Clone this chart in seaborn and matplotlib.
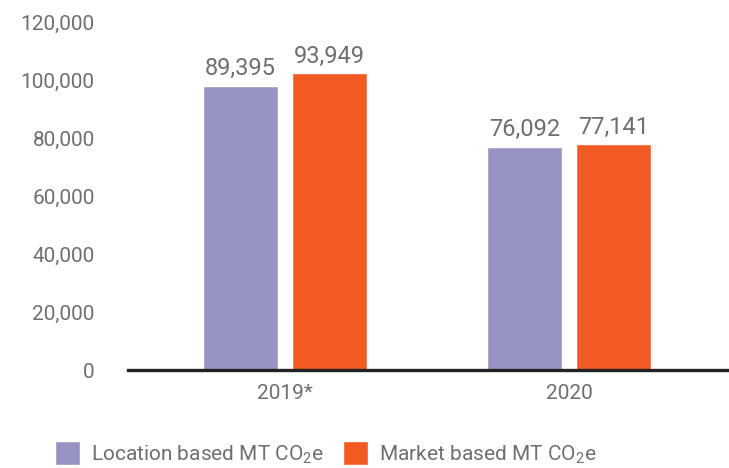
import pandas as pd
import seaborn as sns
import matplotlib.pyplot as plt
from matplotlib.patches import Patch

# values
years = ['2019*', '2020']
series = ['Location based MT CO$_\\mathregular{2}$e', 'Market based MT CO$_\\mathregular{2}$e']
location_heights = [98000, 76900]
market_heights = [102400, 77900]
location_labels = ['89,395', '76,092']
market_labels = ['93,949', '77,141']
yticks = [0, 20000, 40000, 60000, 80000, 100000, 120000]
colors = ['#9793C4', '#F15A22']

df = pd.DataFrame({
    'year': years * 2,
    'value': location_heights + market_heights,
    'type': [series[0]] * 2 + [series[1]] * 2,
})

sns.set_style('white')
plt.rcParams['font.family'] = ['Roboto', 'DejaVu Sans']
plt.rcParams['mathtext.fontset'] = 'custom'
plt.rcParams['mathtext.rm'] = 'Roboto'
grey = '#6f6f6f'

fig = plt.figure(figsize=(7.29, 4.68), dpi=100)
ax = fig.add_axes([128 / 729, 1 - 370 / 468, 1 - 128 / 729, 348 / 468])

sns.barplot(data=df, x='year', y='value', hue='type', palette=colors,
            width=0.627, gap=0.157, ax=ax, legend=False, saturation=1)

ax.bar_label(ax.containers[0], labels=location_labels, padding=4, fontsize=17, color=grey)
ax.bar_label(ax.containers[1], labels=market_labels, padding=4, fontsize=17, color=grey)

ax.set_ylim(0, 120000)
ax.set_xlim(-0.553, 1.563)
ax.set_yticks(yticks)
ax.set_yticklabels([f'{v:,}' for v in yticks])
ax.tick_params(axis='y', length=0, pad=24, labelsize=15, labelcolor=grey)
ax.tick_params(axis='x', length=0, pad=10, labelsize=15, labelcolor=grey)
ax.set_xlabel('')
ax.set_ylabel('')

sns.despine(ax=ax, left=True, right=True, top=True)
ax.spines['bottom'].set_color('#222222')
ax.spines['bottom'].set_linewidth(2.4)

handles = [Patch(facecolor=c) for c in colors]
fig.legend(handles, series, loc='lower left', bbox_to_anchor=(36 / 729, -0.035),
           ncol=2, frameon=False, fontsize=15, labelcolor=grey,
           handlelength=1.2, handleheight=1.45, handletextpad=0.55,
           columnspacing=0.9)

fig.savefig('out.png', dpi=100)
